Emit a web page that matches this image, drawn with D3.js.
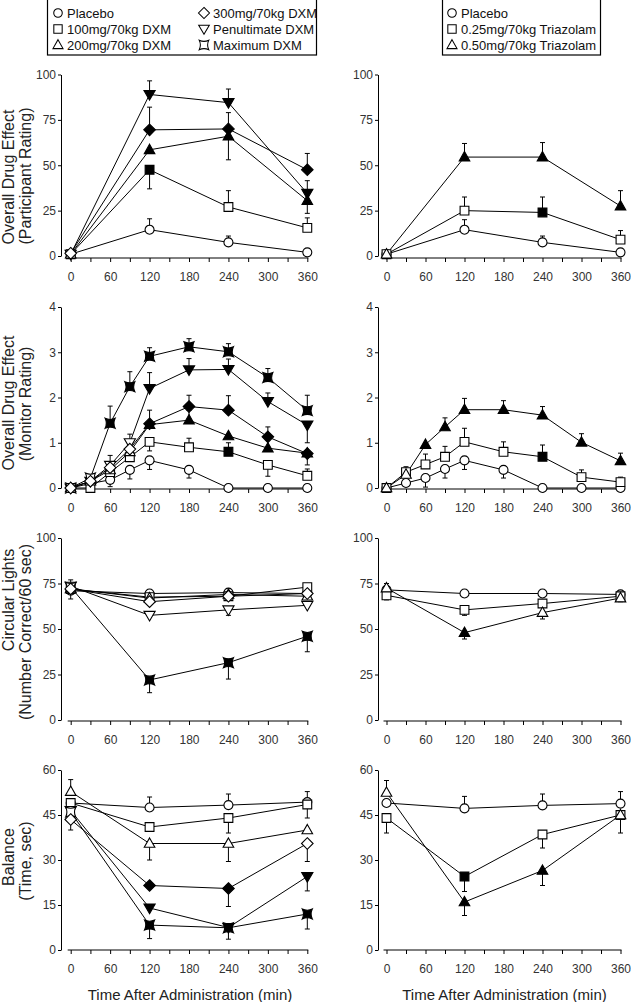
<!DOCTYPE html>
<html><head><meta charset="utf-8">
<script src="https://cdn.jsdelivr.net/npm/d3@7"></script>
<style>
html,body{margin:0;padding:0;background:#fff;}
svg{display:block;font-family:"Liberation Sans",Arial,Helvetica,sans-serif;}
</style></head>
<body>
<svg id="chart" width="631" height="1002"></svg>
<script>
// ---------- data ----------
const timesShort = [0, 120, 240, 360];
const timesLong = [0, 30, 60, 90, 120, 180, 240, 300, 360];
const xTickValues = [0, 30, 60, 90, 120, 150, 180, 210, 240, 270, 300, 330, 360];

const dxmNames = ["Placebo", "100mg/70kg DXM", "200mg/70kg DXM", "300mg/70kg DXM", "Penultimate DXM", "Maximum DXM"];
const dxmSymbols = ["circle", "square", "triUp", "diamond", "triDown", "star"];
const triNames = ["Placebo", "0.25mg/70kg Triazolam", "0.50mg/70kg Triazolam"];
const triSymbols = ["circle", "square", "triUp"];

const titlesParticipant = ["Overall Drug Effect", "(Participant Rating)"];
const titlesMonitor = ["Overall Drug Effect", "(Monitor Rating)"];
const titlesLights = ["Circular Lights", "(Number Correct/60 sec)"];
const titlesBalance = ["Balance", "(Time, sec)"];
const xTitle = "Time After Administration (min)";

const ticksPercent = [0, 25, 50, 75, 100];
const ticksMonitor = [0, 1, 2, 3, 4];
const ticksBalance = [0, 15, 30, 45, 60];

// Panel 1: participant rating (DXM)
const dxmPartVals = [[1, 14.5, 7.5, 2], [1, 47.5, 27, 15.5], [1, 58.5, 66, 30.5], [1.5, 69.5, 70, 47.5], [1, 89, 84.5, 34.5], null];
const dxmPartErr  = [[0, 6, 3.5, 0], [0, -10.5, 9, 5.5], [0, 0, -13, -7], [0, 12.5, 9, 9], [0, 7.5, 7.5, 7], null];
const dxmPartFill = [[0, 0, 0, 0], [0, 1, 0, 0], [0, 1, 1, 1], [0, 1, 1, 1], [0, 1, 1, 1], null];
// Panel 1: participant rating (Triazolam)
const triPartVals = [[1, 14.5, 7.5, 2], [1, 25, 24, 9], [1, 54.5, 54.5, 27.5]];
const triPartErr  = [[0, 5.5, 3.5, 0], [0, 7.5, 8.5, 5], [0, 7.5, 8, 8.5]];
const triPartFill = [[0, 0, 0, 0], [0, 0, 1, 0], [0, 1, 1, 1]];

// Panel 2: monitor rating (DXM)
const dxmMonVals = [
  [0, 0.1, 0.18, 0.4, 0.61, 0.4, 0, 0, 0],
  [0, 0, 0.35, 0.68, 1.02, 0.9, 0.8, 0.51, 0.27],
  [0, 0.15, 0.4, 0.8, 1.4, 1.5, 1.15, 0.88, 0.77],
  [0, 0.15, 0.45, 0.86, 1.42, 1.8, 1.72, 1.13, 0.76],
  [0, 0.15, 0.5, 1.0, 2.2, 2.61, 2.62, 1.91, 1.39],
  [0, 0.22, 1.43, 2.24, 2.91, 3.12, 3.01, 2.44, 1.71]];
const dxmMonErr = [
  [0, 0, -0.15, -0.2, -0.2, -0.18, 0, 0, 0],
  [0, 0, 0, 0, -0.2, 0.2, 0.2, -0.25, 0.15],
  [0, 0, 0, 0, 0, 0.22, 0, 0, 0],
  [0, 0, 0, 0.33, 0.3, 0.25, 0.32, 0.22, -0.25],
  [0, 0, 0.22, 0, 0.35, 0.25, 0.23, 0.19, -0.39],
  [0, 0.08, 0.38, 0.33, 0.19, 0.18, 0.18, 0.2, 0.34]];
const dxmMonFill = [
  [0, 0, 0, 0, 0, 0, 0, 0, 0],
  [0, 0, 0, 0, 0, 0, 1, 0, 0],
  [0, 0, 0, 0, 1, 1, 1, 1, 1],
  [0, 0, 0, 0, 1, 1, 1, 1, 1],
  [0, 0, 0, 0, 1, 1, 1, 1, 1],
  [0, 0, 1, 1, 1, 1, 1, 1, 1]];
// Panel 2: monitor rating (Triazolam)
const triMonVals = [
  [0, 0.11, 0.22, 0.42, 0.61, 0.4, 0, 0, 0],
  [0, 0.35, 0.52, 0.69, 1.02, 0.8, 0.69, 0.24, 0.13],
  [0, 0.3, 0.96, 1.35, 1.73, 1.73, 1.61, 1.01, 0.6]];
const triMonErr = [
  [0, 0, -0.2, -0.2, -0.2, -0.18, 0, 0, 0],
  [0, 0.12, 0.23, 0.23, 0.3, 0.22, 0.26, 0.16, 0.11],
  [0, 0, 0, 0.2, 0.25, 0.2, 0.19, 0.19, 0.17]];
const triMonFill = [
  [0, 0, 0, 0, 0, 0, 0, 0, 0],
  [0, 0, 0, 0, 0, 0, 1, 0, 0],
  [0, 0, 1, 1, 1, 1, 1, 1, 1]];

// Panel 3: circular lights (DXM)
const dxmLightVals = [[71, 69.5, 70, 69.5], [72, 67.5, 68, 73], [72, 67, 69, 68], [72, 65, 68, 69.5], [73.5, 57.5, 60.5, 63], [73, 22, 31.5, 46]];
const dxmLightErr  = [[-4.5, 0, 0, 0], [0, 0, 0, 0], [0, 0, 0, 0], [0, 0, 0, 0], [3.5, 0, -3, 0], [0, -7, -9, -8.5]];
const dxmLightFill = [[0, 0, 0, 0], [0, 0, 0, 0], [0, 0, 0, 0], [0, 0, 0, 0], [0, 0, 0, 0], [0, 1, 1, 1]];
// Panel 3: circular lights (Triazolam)
const triLightVals = [[71.5, 69.5, 69.5, 69], [68.5, 60.5, 64, 68], [72.5, 48, 59, 67]];
const triLightErr  = [[0, 0, 0, 0], [-2.5, -3, 0, 0], [2.5, -3.5, -3.5, -2]];
const triLightFill = [[0, 0, 0, 0], [0, 0, 0, 0], [0, 1, 0, 0]];

// Panel 4: balance (DXM)
const dxmBalVals = [[49, 47.5, 48.3, 49.3], [49, 41, 44, 48.5], [52.8, 35.5, 35.5, 40], [43.5, 21.5, 20.5, 35.5], [46.5, 14, 7.5, 24.5], [46, 8.3, 7.4, 12]];
const dxmBalErr  = [[0, 3.5, 3.7, 3.5], [0, 0, -5, -4.5], [4, -5.5, -6, 0], [-3.5, 0, -6, -6], [0, 0, 0, -4.8], [0, -4.5, -3.8, -5]];
const dxmBalFill = [[0, 0, 0, 0], [0, 0, 0, 0], [0, 0, 0, 0], [0, 1, 1, 0], [0, 1, 1, 1], [0, 1, 1, 1]];
// Panel 4: balance (Triazolam)
const triBalVals = [[49, 47.2, 48.2, 48.8], [44, 24.5, 38.5, 45], [52.5, 16, 26.5, 45]];
const triBalErr  = [[0, 4, 3.8, 4], [-5, -5, -4.5, -6], [4, -4.5, -5, 0]];
const triBalFill = [[0, 0, 0, 0], [0, 1, 0, 0], [0, 1, 1, 0]];

// ---------- layout ----------
const FONT = '"Liberation Sans",Arial,Helvetica,sans-serif';
const cols = [{axisX: 61, x0: 70.7, x1: 307.3}, {axisX: 378, x0: 386.5, x1: 620.5}];
const rows = [{top: 74.5, bottom: 256, xAxisOff: 2}, {top: 307, bottom: 488, xAxisOff: 1}, {top: 538, bottom: 720, xAxisOff: 1}, {top: 770, bottom: 950, xAxisOff: 0}];
const titleCenters = [[177, 176], [403, 404], [600, 632], [857, 861]];
const dxmOrder = [0, 1, 2, 4, 5, 3];
const triOrder = [0, 1, 2];

const SYM = {
  circle: "M4.5,0A4.5,4.5 0 1 1 -4.5,0A4.5,4.5 0 1 1 4.5,0Z",
  square: "M-4.4,-4.4H4.4V4.4H-4.4Z",
  triUp: "M0,-5.6L5.3,3.8L-5.3,3.8Z",
  triDown: "M0,5.6L5.6,-4L-5.6,-4Z",
  diamond: "M0,-5.8L5.8,0L0,5.8L-5.8,0Z",
  star: "M-5,-5Q0,-2.6 5,-5Q2.6,0 5,5Q0,2.6 -5,5Q-2.6,0 -5,-5Z"
};

const svg = d3.select("#chart");

function drawPanel(col, row, times, yDomain, yTicks, vals, errs, fills, symbols, order, titles, titleC, showXTitle) {
  const c = cols[col], r = rows[row];
  const x = d3.scaleLinear().domain([0, 360]).range([c.x0, c.x1]);
  const y = d3.scaleLinear().domain(yDomain).range([r.bottom, r.top]);
  const g = svg.append("g");

  // y axis
  const ya = g.append("g").attr("transform", `translate(${c.axisX},0)`)
    .call(d3.axisLeft(y).tickValues(yTicks).tickFormat(d => String(d)).tickSize(3).tickSizeOuter(0).tickPadding(2));
  ya.select(".domain").attr("stroke", "#000").attr("stroke-width", 1);
  ya.selectAll(".tick line").attr("stroke", "#000");
  ya.selectAll("text").attr("font-size", 12).attr("font-family", FONT).attr("fill", "#333");

  // x axis
  const xy = r.bottom + r.xAxisOff;
  const xa = g.append("g").attr("transform", `translate(0,${xy})`)
    .call(d3.axisBottom(x).tickValues(xTickValues).tickSize(4).tickSizeOuter(0).tickPadding(10)
      .tickFormat(d => d % 60 === 0 ? String(d) : ""));
  xa.select(".domain").remove();
  xa.append("line").attr("x1", x(0) - 3).attr("x2", x(360) + 1).attr("y1", 0).attr("y2", 0)
    .attr("stroke", "#000");
  xa.selectAll(".tick line").attr("stroke", "#000");
  xa.selectAll("text").attr("font-size", 12).attr("font-family", FONT).attr("fill", "#333");

  // y titles (left column only)
  if (titles) {
    const bx = [14, 31];
    titles.forEach((t, i) => {
      g.append("text").attr("transform", `translate(${bx[i]},${titleC[i]}) rotate(-90)`)
        .attr("text-anchor", "middle").attr("font-size", 16).attr("font-family", FONT)
        .attr("fill", "#222").text(t);
    });
  }
  if (showXTitle) {
    g.append("text").attr("x", (c.x0 + c.x1) / 2 + 1).attr("y", 1000)
      .attr("text-anchor", "middle").attr("font-size", 15).attr("font-family", FONT)
      .attr("fill", "#222").text(xTitle);
  }

  const line = d3.line().x((d, i) => x(times[i])).y(d => y(d));
  // connecting lines
  order.forEach(s => {
    if (!vals[s]) return;
    g.append("path").attr("d", line(vals[s])).attr("fill", "none").attr("stroke", "#000").attr("stroke-width", 1);
  });
  // error bars
  order.forEach(s => {
    if (!vals[s]) return;
    vals[s].forEach((v, i) => {
      const e = errs[s][i];
      if (!e) return;
      const px = x(times[i]);
      g.append("line").attr("x1", px).attr("x2", px).attr("y1", y(v)).attr("y2", y(v + e))
        .attr("stroke", "#000").attr("stroke-width", 1);
      g.append("line").attr("x1", px - 2.5).attr("x2", px + 2.5).attr("y1", y(v + e)).attr("y2", y(v + e))
        .attr("stroke", "#000").attr("stroke-width", 1);
    });
  });
  // markers
  order.forEach(s => {
    if (!vals[s]) return;
    vals[s].forEach((v, i) => {
      g.append("path").attr("d", SYM[symbols[s]])
        .attr("transform", `translate(${x(times[i])},${y(v)})`)
        .attr("fill", fills[s][i] ? "#000" : "#fff")
        .attr("stroke", "#000").attr("stroke-width", 1.1);
    });
  });
}

drawPanel(0, 0, timesShort, [0, 100], ticksPercent, dxmPartVals, dxmPartErr, dxmPartFill, dxmSymbols, dxmOrder, titlesParticipant, titleCenters[0], false);
drawPanel(1, 0, timesShort, [0, 100], ticksPercent, triPartVals, triPartErr, triPartFill, triSymbols, triOrder, null, null, false);
drawPanel(0, 1, timesLong, [0, 4], ticksMonitor, dxmMonVals, dxmMonErr, dxmMonFill, dxmSymbols, dxmOrder, titlesMonitor, titleCenters[1], false);
drawPanel(1, 1, timesLong, [0, 4], ticksMonitor, triMonVals, triMonErr, triMonFill, triSymbols, triOrder, null, null, false);
drawPanel(0, 2, timesShort, [0, 100], ticksPercent, dxmLightVals, dxmLightErr, dxmLightFill, dxmSymbols, dxmOrder, titlesLights, titleCenters[2], false);
drawPanel(1, 2, timesShort, [0, 100], ticksPercent, triLightVals, triLightErr, triLightFill, triSymbols, triOrder, null, null, false);
drawPanel(0, 3, timesShort, [0, 60], ticksBalance, dxmBalVals, dxmBalErr, dxmBalFill, dxmSymbols, dxmOrder, titlesBalance, titleCenters[3], true);
drawPanel(1, 3, timesShort, [0, 60], ticksBalance, triBalVals, triBalErr, triBalFill, triSymbols, triOrder, null, null, true);

// ---------- legends ----------
function legend(box, items, syms) {
  const g = svg.append("g");
  g.append("rect").attr("x", box.x).attr("y", box.y).attr("width", box.w).attr("height", box.h)
    .attr("fill", "#fff").attr("stroke", "#000").attr("stroke-width", 1.2);
  items.forEach((it, k) => {
    g.append("path").attr("d", SYM[syms[it.s]])
      .attr("transform", `translate(${it.sx},${it.y}) scale(0.95)`)
      .attr("fill", "#fff").attr("stroke", "#000").attr("stroke-width", 1.1);
    g.append("text").attr("x", it.sx + 9).attr("y", it.y).attr("dy", "0.36em")
      .attr("font-size", 13).attr("font-family", FONT).attr("fill", "#111").text(it.name);
  });
}
const legRowsY = [13, 29, 45];
legend({x: 47.5, y: -1, w: 269, h: 56},
  dxmNames.map((n, i) => ({s: i, name: n, sx: i < 3 ? 58 : 204, y: legRowsY[i % 3]})), dxmSymbols);
legend({x: 442.5, y: -1, w: 158, h: 56},
  triNames.map((n, i) => ({s: i, name: n, sx: 452, y: legRowsY[i]})), triSymbols);
</script>
</body></html>
